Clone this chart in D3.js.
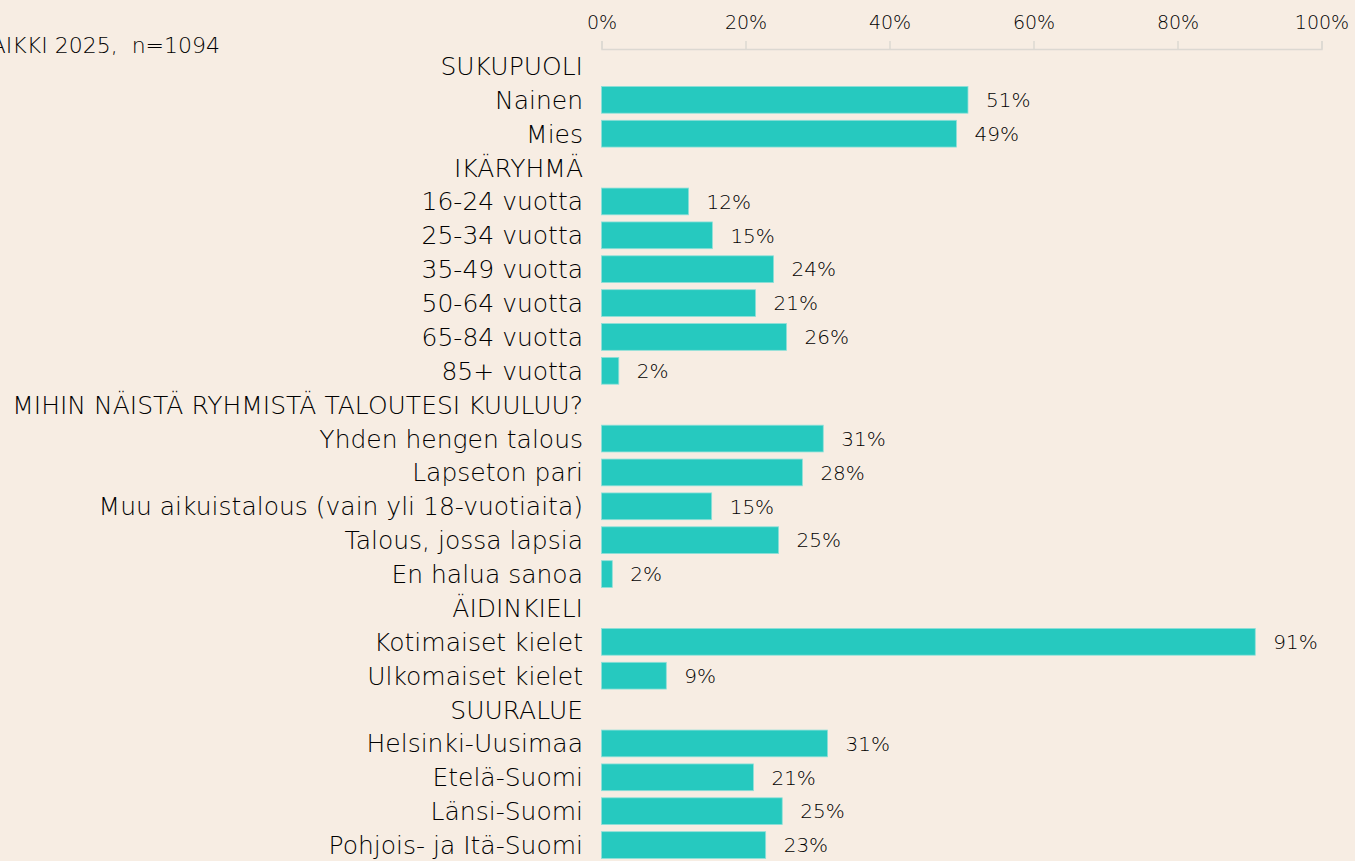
<!DOCTYPE html>
<html>
<head>
<meta charset="utf-8">
<script src="https://cdn.jsdelivr.net/npm/d3@7"></script>
<style>
  html, body { margin: 0; padding: 0; background: #f7ede3; overflow: hidden; }
  svg { display: block; font-family: "DejaVu Sans", sans-serif; }
</style>
</head>
<body>
<div id="chart"></div>
<script>
// rivit: otsikot (header) ja kategoriat
const rivit = [
  'SUKUPUOLI', 'Nainen', 'Mies',
  'IKÄRYHMÄ', '16-24 vuotta', '25-34 vuotta', '35-49 vuotta', '50-64 vuotta', '65-84 vuotta', '85+ vuotta',
  'MIHIN NÄISTÄ RYHMISTÄ TALOUTESI KUULUU?', 'Yhden hengen talous', 'Lapseton pari',
  'Muu aikuistalous (vain yli 18-vuotiaita)', 'Talous, jossa lapsia', 'En halua sanoa',
  'ÄIDINKIELI', 'Kotimaiset kielet', 'Ulkomaiset kielet',
  'SUURALUE', 'Helsinki-Uusimaa', 'Etelä-Suomi', 'Länsi-Suomi', 'Pohjois- ja Itä-Suomi'
];
// osuudet (%), null = otsikkorivi
const osuudet = [
  null, 50.9, 49.3,
  null, 12.1, 15.4, 23.9, 21.4, 25.7, 2.4,
  null, 30.8, 27.9, 15.3, 24.6, 1.5,
  null, 90.8, 9.0,
  null, 31.4, 21.1, 25.1, 22.8
];
const tikit = [0, 20, 40, 60, 80, 100];
const otsikko = 'KAIKKI 2025,\u00a0\u00a0n=1094';

const W = 1355, H = 861;
const svg = d3.select('#chart').append('svg')
  .attr('width', W).attr('height', H);

svg.append('rect').attr('width', W).attr('height', H).attr('fill', '#f7ede3');

const x = d3.scaleLinear().domain([0, 100]).range([601.5, 1321.5]);
const y = d3.scaleBand().domain(rivit.map((d, i) => i)).range([49, 862]).paddingInner(0.21).paddingOuter(0.105);

// akseli ylhäällä
const akseli = svg.append('g')
  .attr('transform', 'translate(0,49)')
  .call(d3.axisTop(x).tickValues(tikit).tickSize(8).tickPadding(12).tickFormat(d => d + '%'));
akseli.select('.domain').attr('stroke', '#dcd8d2').attr('stroke-width', 1.5);
akseli.selectAll('.tick line').attr('stroke', '#dcd8d2').attr('stroke-width', 1.5);
akseli.selectAll('.tick text').attr('fill', '#000').style('font-size', '19px')
  .style('font-family', '"DejaVu Sans", sans-serif').style('font-weight', 300);

// palkit
const data = rivit.map((r, i) => ({ r, i, v: osuudet[i] }));
svg.append('g').selectAll('rect')
  .data(data.filter(d => d.v !== null))
  .enter().append('rect')
  .attr('x', x(0))
  .attr('y', d => y(d.i))
  .attr('width', d => x(d.v) - x(0))
  .attr('height', y.bandwidth())
  .attr('fill', '#26c9bf')
  .attr('stroke', '#8fe0d9')
  .attr('stroke-width', 0.8);

// arvot
svg.append('g').selectAll('text')
  .data(data.filter(d => d.v !== null))
  .enter().append('text')
  .attr('x', d => x(d.v) + 18)
  .attr('y', d => y(d.i) + y.bandwidth() / 2)
  .attr('dy', '0.36em')
  .attr('fill', '#000')
  .style('font-size', '20px')
  .style('font-weight', 300)
  .text(d => Math.round(d.v) + '%');

// rivien nimet
svg.append('g').selectAll('text')
  .data(data)
  .enter().append('text')
  .attr('x', 583)
  .attr('y', d => y(d.i) + y.bandwidth() / 2)
  .attr('dy', '0.36em')
  .attr('text-anchor', 'end')
  .attr('fill', '#000')
  .style('font-size', '25px')
  .style('font-weight', 300)
  .text(d => d.r);

// otsikko, vasen reuna leikkautuu kuten alkuperäisessä
svg.append('text')
  .attr('x', 220)
  .attr('y', 53)
  .attr('text-anchor', 'end')
  .attr('fill', '#000')
  .style('font-size', '22px')
  .style('font-weight', 300)
  .text(otsikko);
</script>
</body>
</html>
